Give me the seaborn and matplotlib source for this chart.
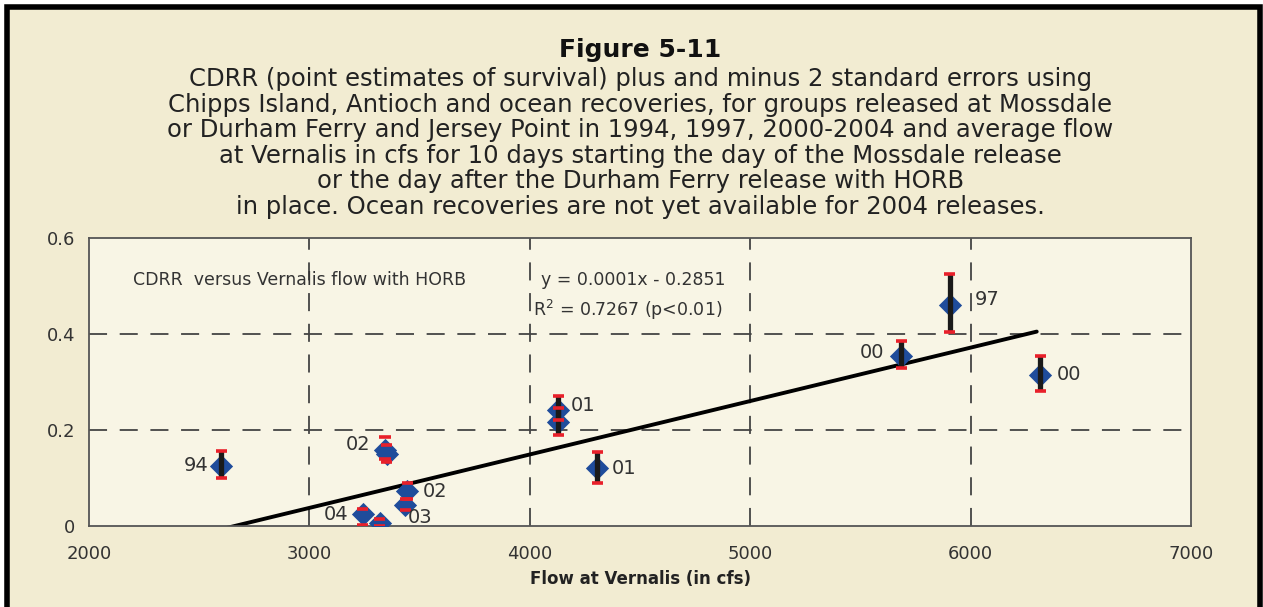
import numpy as np
import pandas as pd
from matplotlib import pyplot as plt
from matplotlib.patches import Rectangle
import seaborn as sns

# valori
flusso = [2600, 3343, 3350, 3443, 3434, 3243, 3320, 4128, 4128, 4305, 5686, 5905, 6315]
cdrr = [0.126, 0.158, 0.150, 0.072, 0.044, 0.025, 0.006, 0.242, 0.217, 0.120, 0.354, 0.460, 0.315]
cdrr_min = [0.101, 0.140, 0.134, 0.056, 0.033, 0.003, 0.000, 0.221, 0.190, 0.090, 0.329, 0.405, 0.282]
cdrr_max = [0.157, 0.186, 0.169, 0.090, 0.056, 0.035, 0.015, 0.270, 0.245, 0.155, 0.385, 0.526, 0.354]
etichette = ["94", "02", "", "02", "03", "04", "", "01", "", "01", "00", "97", "00"]
# barra nera visibile solo dove non e' coperta dai rombi
barra = [True, False, False, False, False, False, False, True, True, True, True, True, True]

trend_flusso = [2625, 6300]
trend_cdrr = [-0.004, 0.405]

x_ticks = [2000, 3000, 4000, 5000, 6000, 7000]
y_ticks = [0, 0.2, 0.4, 0.6]
y_tick_labels = ["0", "0.2", "0.4", "0.6"]

titolo = "Figure 5-11"
sottotitolo = [
    "CDRR (point estimates of survival) plus and minus 2 standard errors using",
    "Chipps Island, Antioch and ocean recoveries, for groups released at Mossdale",
    "or Durham Ferry and Jersey Point in 1994, 1997, 2000-2004 and average flow",
    "at Vernalis in cfs for 10 days starting the day of the Mossdale release",
    "or the day after the Durham Ferry release with HORB",
    "in place. Ocean recoveries are not yet available for 2004 releases.",
]

df = pd.DataFrame({"flusso": flusso, "cdrr": cdrr, "lo": cdrr_min, "hi": cdrr_max,
                   "etichetta": etichette, "barra": barra})

# stile
sns.set_theme(style="white")
plt.rcParams['font.family'] = ['DejaVu Sans']

fondo = "#F2ECD2"
fondo_plot = "#F8F5E5"
blu = "#1F4C9B"
rosso = "#E8202A"

fig = plt.figure(figsize=(12.63, 6.07), dpi=100, facecolor="white")
W, H = 1263, 607
fig.patches.append(Rectangle((6.5 / W, -0.05), (1259.5 - 6.5) / W, 1.05 - 6.5 / H,
                             transform=fig.transFigure, facecolor=fondo,
                             edgecolor="black", linewidth=4, zorder=-10))

ax = fig.add_axes([89 / W, 1 - 526 / H, (1191 - 89) / W, (526 - 238) / H])
ax.set_facecolor(fondo_plot)

# griglia tratteggiata
for xv in x_ticks[1:-1]:
    ax.axvline(xv, color="#444444", lw=1.3, ls=(0, (10, 7)), zorder=1)
for yv in y_ticks[1:-1]:
    ax.axhline(yv, color="#444444", lw=1.3, ls=(0, (10, 7)), zorder=1)

# punti
sns.scatterplot(data=df, x="flusso", y="cdrr", marker="D", s=140, color=blu,
                edgecolor=blu, linewidth=0, ax=ax, zorder=3, legend=False)

# barre di errore (linea nera, estremi rossi)
sub = df[df["barra"]]
ax.vlines(sub["flusso"], sub["lo"], sub["hi"], color="#1a1a1a", lw=3.8, zorder=4)
ax.hlines(df["hi"], df["flusso"] - 25, df["flusso"] + 25, color=rosso, lw=2.6, zorder=5)
ax.hlines(df["lo"], df["flusso"] - 25, df["flusso"] + 25, color=rosso, lw=2.6, zorder=5)

# retta di regressione
sns.lineplot(x=trend_flusso, y=trend_cdrr, color="black", lw=2.8, ax=ax, zorder=2)

# etichette dei punti (offset in pixel)
offset = {0: (-13, 0, "right"), 1: (-15, 6, "right"), 3: (16, 0, "left"),
          4: (3, -13, "left"), 5: (-15, 0, "right"), 7: (13, 4, "left"),
          9: (15, 0, "left"), 10: (-17, 4, "right"), 11: (25, 6, "left"),
          12: (17, 0, "left")}
for i, r in df.iterrows():
    if r["etichetta"] == "":
        continue
    dx, dy, ha = offset[i]
    ax.annotate(r["etichetta"], (r["flusso"], r["cdrr"]), xytext=(dx, dy),
                textcoords="offset pixels", ha=ha, va="center",
                fontsize=14, color="#333333", zorder=6)

ax.text(0.04, 0.855, "CDRR  versus Vernalis flow with HORB", transform=ax.transAxes,
        fontsize=12.5, color="#333333", va="center")
ax.text(0.41, 0.855, "y = 0.0001x - 0.2851", transform=ax.transAxes,
        fontsize=12.5, color="#333333", va="center")
ax.text(0.403, 0.75, "R$^2$ = 0.7267 (p<0.01)", transform=ax.transAxes,
        fontsize=12.5, color="#333333", va="center")

ax.set_xlim(2000, 7000)
ax.set_ylim(0, 0.6)
ax.set_xticks(x_ticks)
ax.set_yticks(y_ticks)
ax.set_yticklabels(y_tick_labels)
ax.tick_params(axis="both", length=0, labelsize=13, labelcolor="#333333")
ax.tick_params(axis="x", pad=14)
ax.tick_params(axis="y", pad=10)
for s in ax.spines.values():
    s.set_color("#555555")
    s.set_linewidth(1.3)
ax.set_xlabel("Flow at Vernalis (in cfs)", fontsize=12, fontweight="bold", color="#222222", labelpad=5)
ax.set_ylabel("")

# titolo
fig.text(0.507, 1 - 50 / H, titolo, ha="center", va="center", fontsize=18, fontweight="bold", color="#111111")
for k, riga in enumerate(sottotitolo):
    fig.text(0.507, 1 - (79 + k * 25.6) / H, riga, ha="center", va="center", fontsize=17.5, color="#222222")

fig.savefig("out.png", dpi=100, facecolor=fig.get_facecolor())
